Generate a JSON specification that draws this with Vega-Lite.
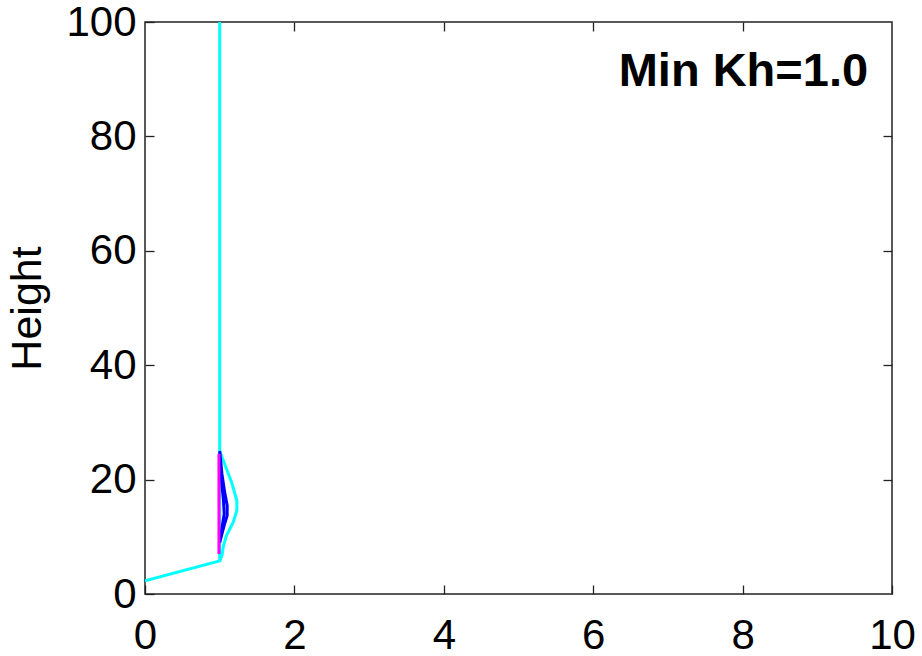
{
  "$schema": "https://vega.github.io/schema/vega-lite/v6.json",
  "width": 747,
  "height": 572,
  "autosize": "none",
  "padding": {"left": 145, "top": 22, "right": 30, "bottom": 62},
  "background": "white",
  "config": {
    "view": {"stroke": "#222", "strokeWidth": 1.5},
    "font": "Liberation Sans, Arial, sans-serif",
    "axis": {"grid": false, "domain": false, "tickColor": "#222", "tickWidth": 1.3, "tickSize": -9,
             "labelFont": "Liberation Sans, sans-serif", "labelFontSize": 42, "labelColor": "black",
             "titleFont": "Liberation Sans, sans-serif", "titleFontSize": 43, "titleFontWeight": "normal", "titleColor": "black"}
  },
  "datasets": {
    "lines": [
      {"series": "cyan", "part": "a", "order": 1, "x": 0, "y": 2.3},
      {"series": "cyan", "part": "a", "order": 2, "x": 1, "y": 5.8},
      {"series": "cyan", "part": "a", "order": 3, "x": 1, "y": 100},
      {"series": "cyan", "part": "b", "order": 1, "x": 1, "y": 25},
      {"series": "cyan", "part": "b", "order": 2, "x": 1.16, "y": 19.5},
      {"series": "cyan", "part": "b", "order": 3, "x": 1.23, "y": 16.3},
      {"series": "cyan", "part": "b", "order": 4, "x": 1.23, "y": 14.6},
      {"series": "cyan", "part": "b", "order": 5, "x": 1.18, "y": 12.5},
      {"series": "cyan", "part": "b", "order": 6, "x": 1.09, "y": 10.2},
      {"series": "cyan", "part": "b", "order": 7, "x": 1.05, "y": 8.4},
      {"series": "cyan", "part": "b", "order": 8, "x": 1.03, "y": 6.7},
      {"series": "cyan", "part": "b", "order": 9, "x": 1, "y": 5.8},
      {"series": "blue", "part": "c", "order": 1, "x": 1.0, "y": 25},
      {"series": "blue", "part": "c", "order": 2, "x": 1.03, "y": 21},
      {"series": "blue", "part": "c", "order": 3, "x": 1.07, "y": 17.5},
      {"series": "blue", "part": "c", "order": 4, "x": 1.1, "y": 15.5},
      {"series": "blue", "part": "c", "order": 5, "x": 1.1, "y": 13.7},
      {"series": "blue", "part": "c", "order": 6, "x": 1.06, "y": 12},
      {"series": "blue", "part": "c", "order": 7, "x": 1.02, "y": 10},
      {"series": "blue", "part": "c", "order": 8, "x": 1.0, "y": 9},
      {"series": "blue", "part": "d", "order": 1, "x": 1.0, "y": 23},
      {"series": "blue", "part": "d", "order": 2, "x": 1.03, "y": 19},
      {"series": "blue", "part": "d", "order": 3, "x": 1.05, "y": 16.5},
      {"series": "blue", "part": "d", "order": 4, "x": 1.06, "y": 14},
      {"series": "blue", "part": "d", "order": 5, "x": 1.03, "y": 11.5},
      {"series": "blue", "part": "d", "order": 6, "x": 1.0, "y": 9.5},
      {"series": "magenta", "part": "e", "order": 1, "x": 0.99, "y": 24.5},
      {"series": "magenta", "part": "e", "order": 2, "x": 0.99, "y": 7}
    ],
    "labels": [
      {"x": 9.68, "y": 88.8, "text": "Min Kh=1.0"}
    ]
  },
  "layer": [
    {
      "data": {"name": "lines"},
      "mark": {"type": "line", "strokeWidth": 3, "clip": true},
      "encoding": {
        "x": {"field": "x", "type": "quantitative", "scale": {"domain": [0, 10], "nice": false},
              "axis": {"orient": "bottom", "values": [0, 2, 4, 6, 8, 10], "title": null, "labelPadding": 30, "labelFlush": false}},
        "y": {"field": "y", "type": "quantitative", "scale": {"domain": [0, 100], "nice": false},
              "axis": {"orient": "left", "values": [0, 20, 40, 60, 80, 100], "title": "Height", "labelPadding": 18, "titlePadding": 16, "labelFlush": false}},
        "detail": {"field": "part"},
        "order": {"field": "order"},
        "strokeWidth": {"field": "series", "type": "nominal", "scale": {"domain": ["cyan", "blue", "magenta"], "range": [3, 3, 4]}, "legend": null},
        "color": {"field": "series", "type": "nominal",
                  "scale": {"domain": ["cyan", "blue", "magenta"], "range": ["#00FFFF", "#0000FF", "#FF00FF"]},
                  "legend": null}
      }
    },
    {
      "data": {"name": "labels"},
      "mark": {"type": "text", "align": "right", "baseline": "alphabetic", "font": "Liberation Sans, Arial, sans-serif", "fontWeight": "bold", "fontSize": 47, "color": "black"},
      "encoding": {
        "x": {"field": "x", "type": "quantitative", "scale": {"domain": [0, 10], "nice": false},
              "axis": {"orient": "top", "values": [2, 4, 6, 8], "labels": false, "title": null}},
        "y": {"field": "y", "type": "quantitative", "scale": {"domain": [0, 100], "nice": false},
              "axis": {"orient": "right", "values": [20, 40, 60, 80], "labels": false, "title": null}},
        "text": {"field": "text"}
      }
    }
  ],
  "resolve": {"scale": {"x": "independent", "y": "independent"}, "axis": {"x": "independent", "y": "independent"}}
}
